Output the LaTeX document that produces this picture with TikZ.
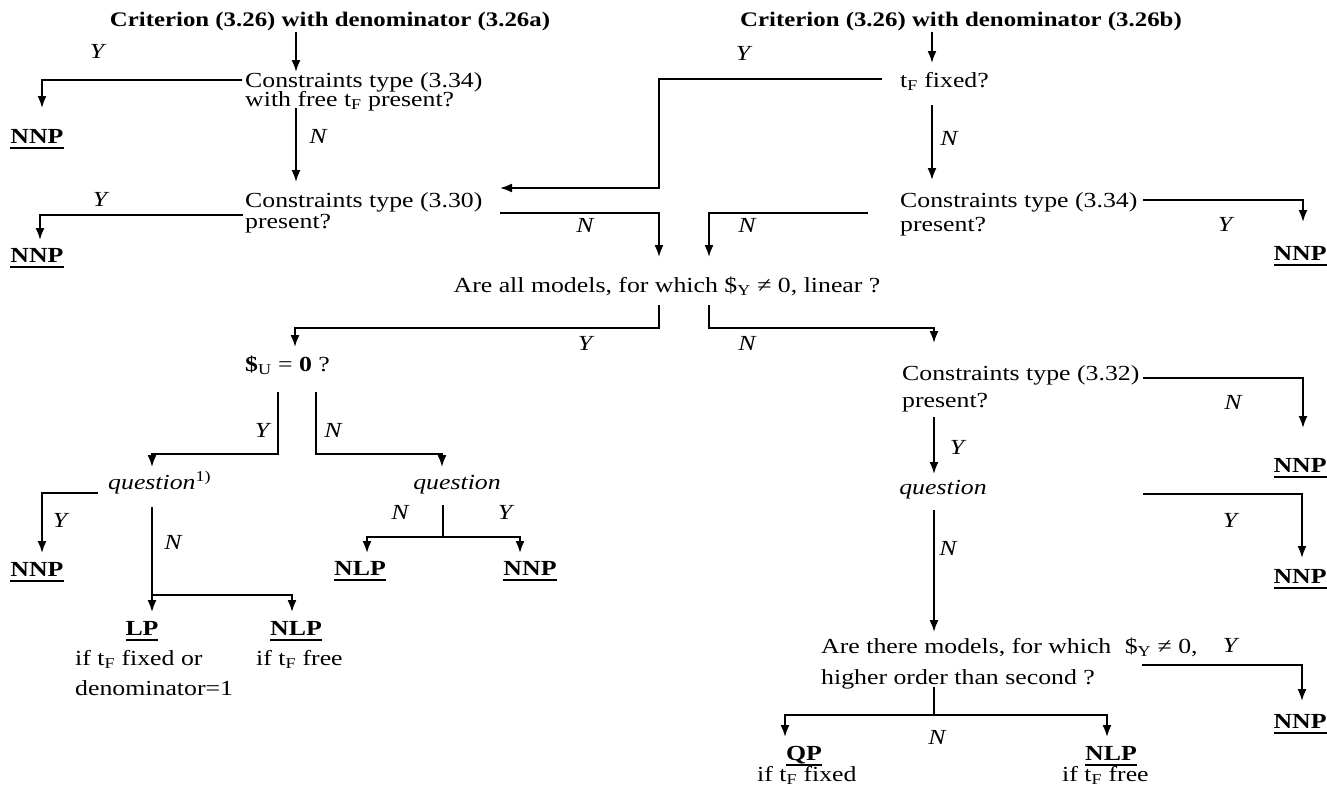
\documentclass[tikz,border=0pt]{standalone}
\usepackage{fontspec}
\setmainfont{Liberation Serif}[FakeStretch=1.2]
\usetikzlibrary{arrows.meta}
\newcommand\tF{t\textsubscript{F}}
\newsavebox\ulbox
\newcommand\ulbf[1]{\sbox\ulbox{\textbf{#1}}\rlap{\usebox\ulbox}\rule[-6pt]{\wd\ulbox}{1.6pt}}
\begin{document}
\begin{tikzpicture}[x=1pt,y=-1pt,
  every node/.style={inner sep=0pt, font=\fontsize{21.5}{25}\selectfont},
  tx/.style={anchor=base west},
  ctr/.style={anchor=base},
  ttl/.style={anchor=base, font=\fontsize{20.7}{25}\selectfont\bfseries},
  lab/.style={anchor=base, font=\fontsize{21.5}{25}\selectfont\itshape},
  ln/.style={line width=1.8pt},
  arr/.style={line width=1.8pt, -{Latex[length=12pt,width=9pt]}}]
\useasboundingbox (0,0) rectangle (1327,787);
% ---------- texts ----------
\node[ttl] (t1) at (330,26) {Criterion (3.26) with denominator (3.26a)};
\node[ttl] (t2) at (961,26) {Criterion (3.26) with denominator (3.26b)};
\node[lab] (y1) at (97,58) {Y};
\node[tx] (q1a) at (245,87) {Constraints type (3.34)};
\node[tx] (q1b) at (245,106) {with free \tF{} present?};
\node[ctr] (nnp1) at (37,143) {\ulbf{NNP}};
\node[lab] (n1) at (318,143) {N};
\node[lab] (y2) at (743,60) {Y};
\node[tx] (q2) at (900,87) {\tF{} fixed?};
\node[lab] (n2) at (949,145) {N};
\node[lab] (y3) at (100,206) {Y};
\node[tx] (q3a) at (245,207) {Constraints type (3.30)};
\node[tx] (q3b) at (245,228) {present?};
\node[ctr] (nnp2) at (37,262) {\ulbf{NNP}};
\node[lab] (n3) at (585,232) {N};
\node[lab] (n4) at (747,232) {N};
\node[tx] (q4a) at (900,207) {Constraints type (3.34)};
\node[tx] (q4b) at (900,231) {present?};
\node[lab] (y4) at (1225,231) {Y};
\node[ctr] (nnp3) at (1300,260) {\ulbf{NNP}};
\node[ctr] (q5) at (667,292) {Are all models, for which \$\textsubscript{Y} ≠ 0, linear ?};
\node[lab] (y5) at (585,350) {Y};
\node[lab] (n5) at (747,350) {N};
\node[tx] (q6) at (245,371) {\textbf{\$}\textsubscript{U} = \textbf{0} ?};
\node[lab] (y6) at (262,437) {Y};
\node[lab] (n6) at (333,437) {N};
\node[tx] (q7) at (108,489) {\textit{question}\textsuperscript{1)}};
\node[ctr] (q8) at (457,489) {\textit{question}};
\node[lab] (y7) at (60,527) {Y};
\node[lab] (n7) at (173,549) {N};
\node[lab] (n8) at (400,519) {N};
\node[lab] (y8) at (505,519) {Y};
\node[ctr] (nnp4) at (37,576) {\ulbf{NNP}};
\node[ctr] (nlp1) at (360,575) {\ulbf{NLP}};
\node[ctr] (nnp5) at (530,575) {\ulbf{NNP}};
\node[ctr] (lp) at (142,635) {\ulbf{LP}};
\node[ctr] (nlp2) at (296,635) {\ulbf{NLP}};
\node[tx] (r1a) at (75,665) {if \tF{} fixed or};
\node[tx] (r1b) at (75,695) {denominator=1};
\node[tx] (r2) at (256,665) {if \tF{} free};
\node[tx] (q9a) at (902,380) {Constraints type (3.32)};
\node[tx] (q9b) at (902,407) {present?};
\node[lab] (n9) at (1233,409) {N};
\node[ctr] (nnp6) at (1300,472) {\ulbf{NNP}};
\node[lab] (y9) at (957,454) {Y};
\node[ctr] (q10) at (943,494) {\textit{question}};
\node[lab] (y10) at (1230,527) {Y};
\node[lab] (n10) at (948,555) {N};
\node[ctr] (nnp7) at (1300,583) {\ulbf{NNP}};
\node[tx] (q11a) at (821,653) {Are there models, for which\hspace{7pt} \$\textsubscript{Y} ≠ 0,};
\node[lab] (y11) at (1230,652) {Y};
\node[tx] (q11b) at (821,684) {higher order than second ?};
\node[ctr] (nnp8) at (1300,728) {\ulbf{NNP}};
\node[lab] (n11) at (937,744) {N};
\node[ctr] (qp) at (804,760) {\ulbf{QP}};
\node[ctr] (nlp3) at (1111,760) {\ulbf{NLP}};
\node[tx] (r3) at (757,781) {if \tF{} fixed};
\node[tx] (r4) at (1062,781) {if \tF{} free};
% ---------- connector points ----------
\path (296,32) coordinate (t1o)   (296,72) coordinate (q1in)
      (242,80) coordinate (q1y)   (42,108) coordinate (nnp1in)
      (296,108) coordinate (q1n)  (296,182) coordinate (q3in)
      (932,32) coordinate (t2o)   (932,63) coordinate (q2in)
      (882,79) coordinate (q2y)   (659,188) coordinate (q2yb) (500,188) coordinate (q3in2)
      (932,105) coordinate (q2n)  (932,180) coordinate (q4in)
      (243,215) coordinate (q3y)  (40,240) coordinate (nnp2in)
      (500,213) coordinate (q3n)  (659,257) coordinate (q5in1)
      (868,213) coordinate (q4n)  (709,257) coordinate (q5in2)
      (1143,200) coordinate (q4y) (1303,222) coordinate (nnp3in)
      (659,305) coordinate (q5y)  (659,328) coordinate (q5yb) (295,347) coordinate (q6in)
      (709,305) coordinate (q5n)  (709,328) coordinate (q5nb) (934,343) coordinate (q9in)
      (278,392) coordinate (q6y)  (278,454) coordinate (q6yb) (152,467) coordinate (q7in)
      (316,392) coordinate (q6n)  (316,454) coordinate (q6nb) (442,467) coordinate (q8in)
      (98,493) coordinate (q7y)   (42,553) coordinate (nnp4in)
      (152,507) coordinate (q7n)  (152,595) coordinate (q7nb) (152,612) coordinate (lpin) (292,612) coordinate (nlp2in)
      (443,505) coordinate (q8o)  (443,537) coordinate (q8b) (367,553) coordinate (nlp1in) (520,553) coordinate (nnp5in)
      (1143,378) coordinate (q9n) (1303,428) coordinate (nnp6in)
      (934,417) coordinate (q9y)  (934,474) coordinate (q10in)
      (1143,494) coordinate (q10y) (1302,558) coordinate (nnp7in)
      (934,510) coordinate (q10n) (934,632) coordinate (q11in)
      (1142,665) coordinate (q11y) (1302,701) coordinate (nnp8in)
      (934,687) coordinate (q11n) (934,715) coordinate (q11nb) (785,737) coordinate (qpin) (1107,737) coordinate (nlp3in);
% ---------- connectors ----------
\draw[arr] (t1o) -- (q1in);
\draw[arr] (q1y) -| (nnp1in);
\draw[arr] (q1n) -- (q3in);
\draw[arr] (t2o) -- (q2in);
\draw[arr] (q2y) -| (q2yb) -- (q3in2);
\draw[arr] (q2n) -- (q4in);
\draw[arr] (q3y) -| (nnp2in);
\draw[arr] (q3n) -| (q5in1);
\draw[arr] (q4n) -| (q5in2);
\draw[arr] (q4y) -| (nnp3in);
\draw[arr] (q5y) -- (q5yb) -| (q6in);
\draw[arr] (q5n) -- (q5nb) -| (q9in);
\draw[arr] (q6y) -- (q6yb) -| (q7in);
\draw[arr] (q6n) -- (q6nb) -| (q8in);
\draw[arr] (q7y) -| (nnp4in);
\draw[arr] (q7n) -- (lpin);
\draw[arr] (q7nb) -| (nlp2in);
\draw[ln] (q8o) -- (q8b);
\draw[arr] (q8b) -| (nlp1in);
\draw[arr] (q8b) -| (nnp5in);
\draw[arr] (q9n) -| (nnp6in);
\draw[arr] (q9y) -- (q10in);
\draw[arr] (q10y) -| (nnp7in);
\draw[arr] (q10n) -- (q11in);
\draw[arr] (q11y) -| (nnp8in);
\draw[ln] (q11n) -- (q11nb);
\draw[arr] (q11nb) -| (qpin);
\draw[arr] (q11nb) -| (nlp3in);
\end{tikzpicture}
\end{document}
